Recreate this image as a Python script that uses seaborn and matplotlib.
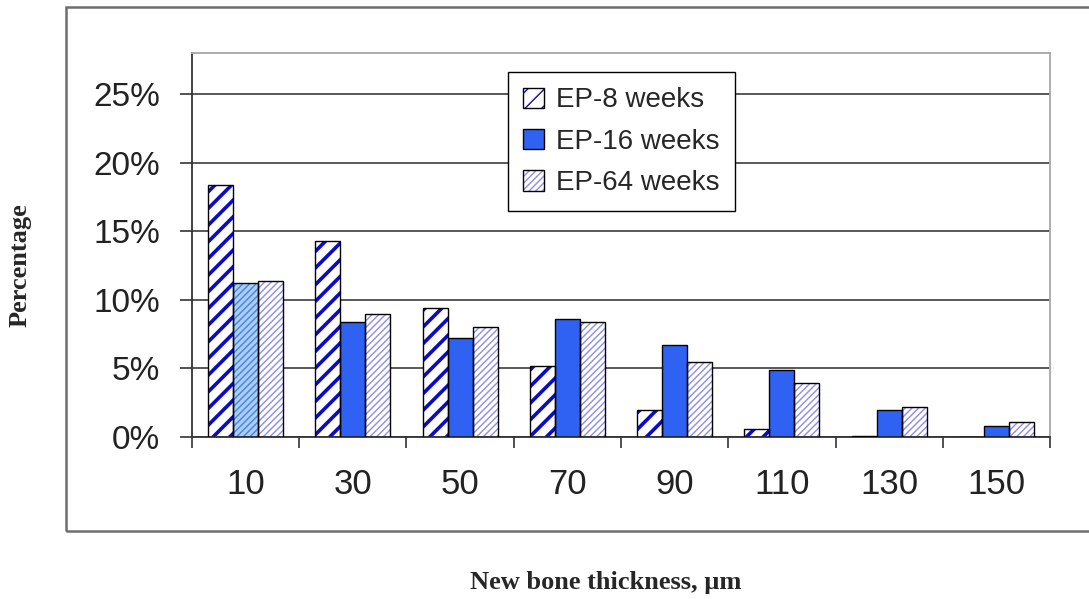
import numpy as np
import pandas as pd
import matplotlib
matplotlib.use("Agg")
import matplotlib.pyplot as plt
from matplotlib.patches import Patch, Rectangle
from matplotlib.ticker import PercentFormatter
import seaborn as sns

# data (fractions)
thickness = ["10", "30", "50", "70", "90", "110", "130", "150"]
ep8 = [0.184, 0.143, 0.094, 0.052, 0.020, 0.006, 0.001, 0.0]
ep16 = [0.112, 0.084, 0.072, 0.086, 0.067, 0.049, 0.020, 0.008]
ep64 = [0.114, 0.090, 0.080, 0.084, 0.055, 0.039, 0.022, 0.011]
groups = ["EP-8 weeks", "EP-16 weeks", "EP-64 weeks"]

df = pd.DataFrame({
    "thick": thickness * 3,
    "pct": ep8 + ep16 + ep64,
    "group": np.repeat(groups, len(thickness)),
})

sns.set_style("white")
plt.rcParams["font.family"] = ["Liberation Sans", "DejaVu Sans"]

fig = plt.figure(figsize=(10.89, 5.99), dpi=100)
ax = fig.add_axes([0.1763, 0.2705, 0.7879, 0.641])

sns.barplot(data=df, x="thick", y="pct", hue="group", order=thickness,
            hue_order=groups, width=0.7, gap=0, ax=ax, legend=False,
            palette=["white", "#2F62F2", "white"], saturation=1)

# styles: (face, hatch, hatch colour, hatch width)
styles = [("white", "//", "#0A0AC8", 2.6),
          ("#2F62F2", "", "#2F62F2", 1.0),
          ("white", "/////", "#8C8CF0", 1.0)]

for cont, (fc, h, hc, hw) in zip(ax.containers, styles):
    for bar in cont:
        bar.set_facecolor(fc)
        bar.set_hatch(h)
        bar.set_edgecolor(hc)
        bar.set_linewidth(0)
        if hasattr(bar, "set_hatch_linewidth"):
            bar.set_hatch_linewidth(hw)
        ax.add_patch(Rectangle(bar.get_xy(), bar.get_width(), bar.get_height(),
                               fill=False, edgecolor="black", linewidth=1.0, zorder=3))

# the first EP-16 bar is drawn light blue and hatched in the original
first = ax.containers[1][0]
first.set_facecolor("#A8CFF5")
first.set_hatch("/////")
first.set_edgecolor("#4A7FE0")

ax.set_ylim(0, 0.28)
ax.set_xlim(-0.5, len(thickness) - 0.5)
ax.set_yticks([0, 0.05, 0.10, 0.15, 0.20, 0.25])
ax.yaxis.set_major_formatter(PercentFormatter(1.0, decimals=0))
ax.set_axisbelow(True)
ax.yaxis.grid(True, color="#3c3c3c", linewidth=1.2)
ax.xaxis.grid(False)

ax.set_xticks(np.arange(-0.5, len(thickness), 1.0), minor=True)
ax.tick_params(axis="x", which="major", length=0, pad=22, labelsize=25, colors="#222222")
ax.tick_params(axis="x", which="minor", length=8, width=1.2, color="#333333", direction="out", bottom=True)
ax.tick_params(axis="y", length=9, width=1.2, color="#333333", direction="out", left=True,
               pad=14, labelsize=24, labelcolor="#222222")

ax.set_xlabel("")
ax.set_ylabel("")
for side in ["left", "bottom"]:
    ax.spines[side].set_color("#333333")
    ax.spines[side].set_linewidth(1.3)
for side in ["top", "right"]:
    ax.spines[side].set_visible(True)
    ax.spines[side].set_color("#a8a8a8")
    ax.spines[side].set_linewidth(1.3)

handles = []
for fc, h, hc, hw in styles:
    fill = Patch(facecolor=fc, hatch=h, edgecolor=hc, linewidth=0)
    if hasattr(fill, "set_hatch_linewidth"):
        fill.set_hatch_linewidth(min(hw, 2.0))
    edge = Patch(fill=False, edgecolor="black", linewidth=1.0)
    handles.append((fill, edge))
leg = ax.legend(handles, groups, loc="upper left", bbox_to_anchor=(0.368, 0.95),
                borderaxespad=0, frameon=True, fancybox=False, framealpha=1,
                edgecolor="black", fontsize=20, handlelength=0.75, handleheight=0.75,
                handletextpad=0.45, labelspacing=0.55, borderpad=0.55)
leg.get_frame().set_linewidth(1.0)
leg.set_zorder(5)

# outer chart frame
fig.patches.append(Rectangle((0.0606, 0.1135), 1.0, 0.8745, transform=fig.transFigure,
                             fill=False, edgecolor="#6e6e6e", linewidth=1.8))

fig.text(0.018, 0.558, "Percentage", rotation=90, ha="center", va="center",
         fontsize=19, fontweight="bold", family=["Liberation Serif", "DejaVu Serif"])
fig.text(0.556, 0.027, "New bone thickness, \u00b5m", ha="center", va="center",
         fontsize=19, fontweight="bold", family=["Liberation Serif", "DejaVu Serif"])

fig.savefig("out.png", dpi=100)
